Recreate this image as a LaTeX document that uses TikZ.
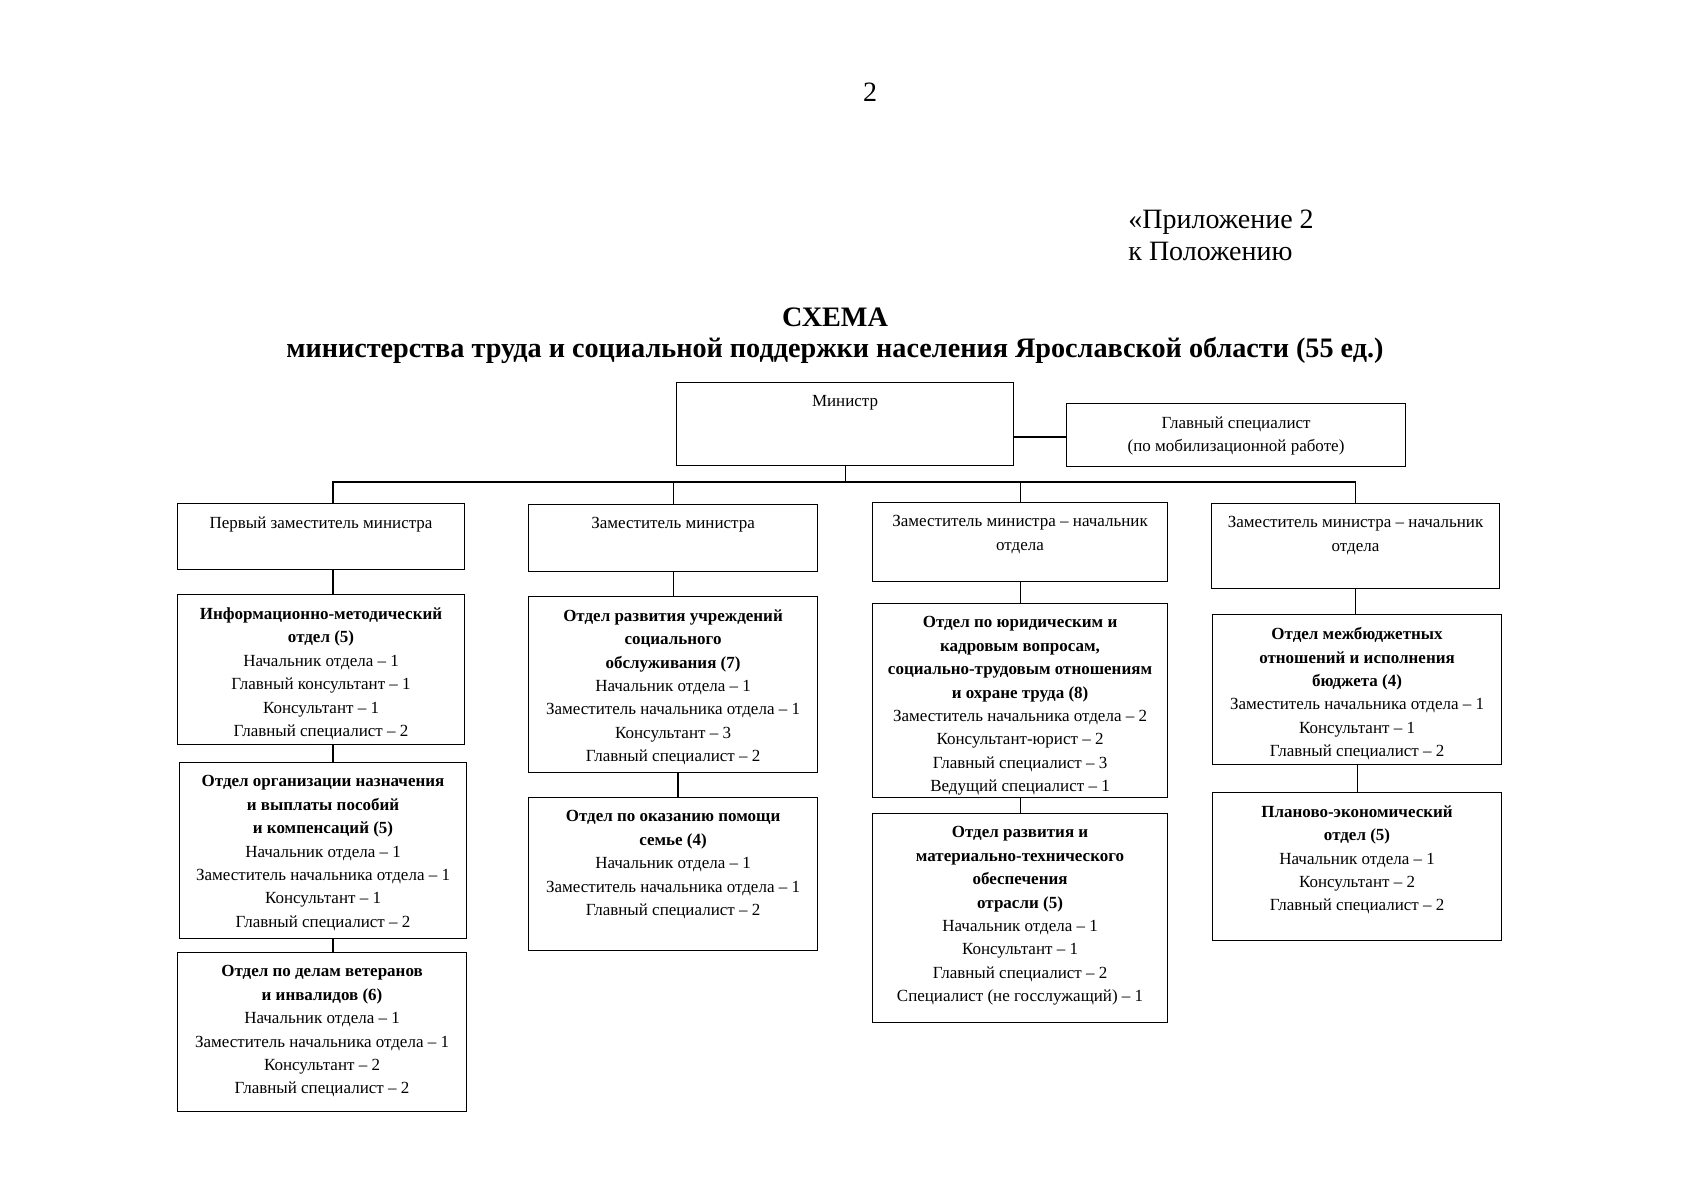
\documentclass[tikz,border=0pt]{standalone}
\usepackage{fontspec}
\setmainfont{Liberation Serif}
\newcommand\hd[1]{\textbf{#1}}
\newcommand\orgbox[6]{%
  \node[orgbx, anchor=north west, minimum width={(#4-#2)*0.5pt}, minimum height={(#5-#3)*0.5pt}] (#1) at (#2,#3) {};
  \node[orgtxt, anchor=north] (#1t) at ([yshift=-6.6pt]#1.north) {#6};}
\begin{document}
\begin{tikzpicture}[x=0.5pt,y=-0.5pt,
  orgbx/.style={draw, line width=0.55pt, inner sep=0pt},
  orgtxt/.style={inner sep=0pt, align=center, font=\fontsize{8.5}{11.7}\selectfont},
  link/.style={line width=0.55pt},
  big/.style={inner sep=0pt, font=\fontsize{14}{16.2}\selectfont}]
\path[use as bounding box, fill=white] (0,0) rectangle (1697,1200);

\node[big, anchor=base] (pg) at (870,101) {2};
\node[big, anchor=base west] (app1) at (1128,228) {«Приложение 2};
\node[big, anchor=base west] (app2) at (1128,260) {к Положению};
\node[big, anchor=base, font=\fontsize{14.1}{16.2}\selectfont\bfseries] (t1) at (835,326) {СХЕМА};
\node[big, anchor=base, font=\fontsize{14.1}{16.2}\selectfont\bfseries] (t2) at (835,357) {министерства труда и социальной поддержки населения Ярославской области (55 ед.)};

\orgbox{Min}{676}{382}{1013}{465}{Министр}
\orgbox{Chief}{1066}{403}{1405}{466}{Главный специалист\\(по мобилизационной работе)}

\orgbox{P1}{177}{503}{464}{569}{Первый заместитель министра}
\orgbox{P2}{528}{504}{817}{571}{Заместитель министра}
\orgbox{P3}{872}{502}{1167}{581}{Заместитель министра – начальник\\отдела}
\orgbox{P4}{1211}{503}{1499}{588}{Заместитель министра – начальник\\отдела}

\orgbox{A1}{177}{594}{464}{744}{\hd{Информационно-методический}\\\hd{отдел (5)}\\Начальник отдела – 1\\Главный консультант – 1\\Консультант – 1\\Главный специалист – 2}
\orgbox{A2}{179}{762}{466}{938}{\hd{Отдел организации назначения}\\\hd{и выплаты пособий}\\\hd{и компенсаций (5)}\\Начальник отдела – 1\\Заместитель начальника отдела – 1\\Консультант – 1\\Главный специалист – 2}
\orgbox{A3}{177}{952}{466}{1111}{\hd{Отдел по делам ветеранов}\\\hd{и инвалидов (6)}\\Начальник отдела – 1\\Заместитель начальника отдела – 1\\Консультант – 2\\Главный специалист – 2}

\orgbox{B1}{528}{596}{817}{772}{\hd{Отдел развития учреждений}\\\hd{социального}\\\hd{обслуживания (7)}\\Начальник отдела – 1\\Заместитель начальника отдела – 1\\Консультант – 3\\Главный специалист – 2}
\orgbox{B2}{528}{797}{817}{950}{\hd{Отдел по оказанию помощи}\\\hd{семье (4)}\\Начальник отдела – 1\\Заместитель начальника отдела – 1\\Главный специалист – 2}

\orgbox{C1}{872}{603}{1167}{797}{\hd{Отдел по юридическим и}\\\hd{кадровым вопросам,}\\\hd{социально-трудовым отношениям}\\\hd{и охране труда (8)}\\Заместитель начальника отдела – 2\\Консультант-юрист – 2\\Главный специалист – 3\\Ведущий специалист – 1}
\orgbox{C2}{872}{813}{1167}{1022}{\hd{Отдел развития и}\\\hd{материально-технического}\\\hd{обеспечения}\\\hd{отрасли (5)}\\Начальник отдела – 1\\Консультант – 1\\Главный специалист – 2\\Специалист (не госслужащий) – 1}

\orgbox{D1}{1212}{614}{1501}{764}{\hd{Отдел межбюджетных}\\\hd{отношений и исполнения}\\\hd{бюджета (4)}\\Заместитель начальника отдела – 1\\Консультант – 1\\Главный специалист – 2}
\orgbox{D2}{1212}{792}{1501}{940}{\hd{Планово-экономический}\\\hd{отдел (5)}\\Начальник отдела – 1\\Консультант – 2\\Главный специалист – 2}

\coordinate (busY) at (0,482);
\coordinate (colA) at (333,0);
\coordinate (colB) at (678,0);
\coordinate (chiefY) at (0,437);
\draw[link] (Min.south) -- (Min.south |- busY);
\draw[link] (P1.north -| colA) -- (colA |- busY) -- (P4.north |- busY) -- (P4.north);
\draw[link] (P2.north) -- (P2.north |- busY);
\draw[link] (P3.north) -- (P3.north |- busY);
\draw[link] (Min.east |- chiefY) -- (Chief.west |- chiefY);

\draw[link] (P1.south -| colA) -- (A1.north -| colA);
\draw[link] (A1.south -| colA) -- (A2.north -| colA);
\draw[link] (A2.south -| colA) -- (A3.north -| colA);
\draw[link] (P2.south) -- (B1.north);
\draw[link] (B1.south -| colB) -- (B2.north -| colB);
\draw[link] (P3.south) -- (C1.north);
\draw[link] (C1.south) -- (C2.north);
\draw[link] (P4.south) -- (D1.north -| P4.south);
\draw[link] (D1.south) -- (D2.north);
\end{tikzpicture}
\end{document}
